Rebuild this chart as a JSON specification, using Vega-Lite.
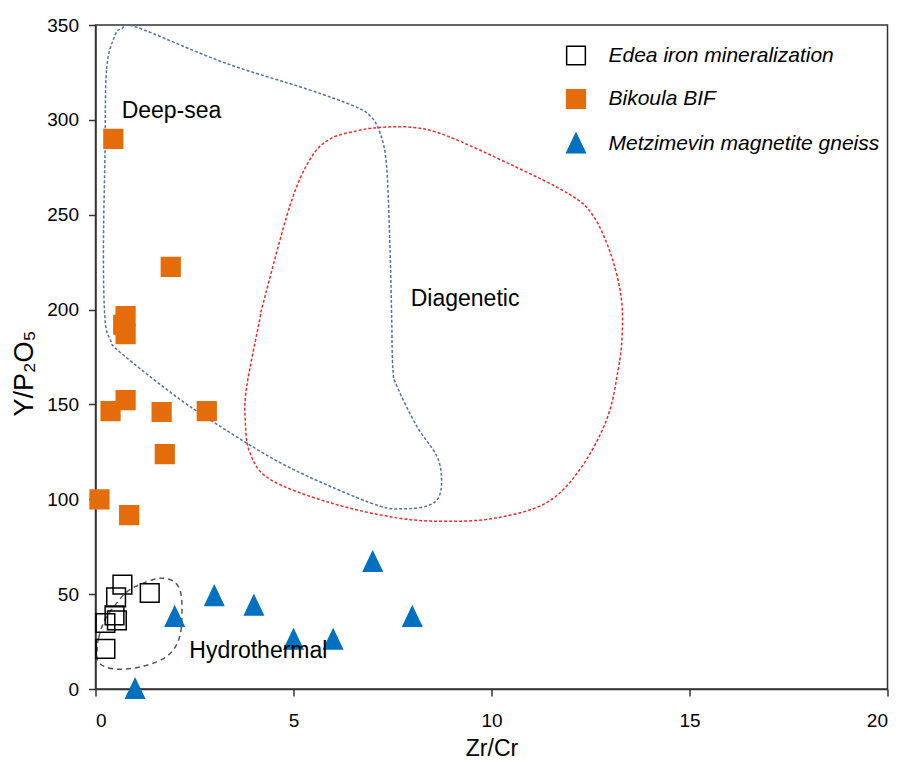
{
  "$schema": "https://vega.github.io/schema/vega-lite/v6.json",
  "autosize": {"type": "none"},
  "width": 792,
  "height": 664,
  "padding": {"left": 95.5, "top": 25, "right": 13.5, "bottom": 73},
  "background": "white",
  "config": {
    "view": {"stroke": "#333", "strokeWidth": 1.5},
    "font": "Liberation Sans",
    "axis": {
      "labelFont": "Liberation Sans", "labelFontSize": 19, "labelColor": "#000",
      "titleFont": "Liberation Sans", "titleFontSize": 23, "titleFontWeight": "normal", "titleColor": "#000",
      "domainColor": "#333", "domainWidth": 1.5, "tickColor": "#333", "tickWidth": 1.5, "tickSize": 7, "grid": false
    },
    "legend": {
      "labelFont": "Liberation Sans", "labelFontSize": 21, "labelFontStyle": "italic", "labelColor": "#000",
      "labelOffset": 22, "rowPadding": 18.5, "symbolSize": 350, "symbolStrokeWidth": 1.5, "labelLimit": 400, "padding": 0
    }
  },
  "datasets": {
    "points": [
      {"series": "Edea iron mineralization", "x": 0.68, "y": 55.0},
      {"series": "Edea iron mineralization", "x": 0.52, "y": 48.3},
      {"series": "Edea iron mineralization", "x": 1.37, "y": 50.6},
      {"series": "Edea iron mineralization", "x": 0.48, "y": 38.8},
      {"series": "Edea iron mineralization", "x": 0.54, "y": 36.2},
      {"series": "Edea iron mineralization", "x": 0.25, "y": 34.8},
      {"series": "Edea iron mineralization", "x": 0.25, "y": 21.1},
      {"series": "Bikoula BIF", "x": 0.45, "y": 290},
      {"series": "Bikoula BIF", "x": 1.9, "y": 222.5},
      {"series": "Bikoula BIF", "x": 0.76, "y": 196.6},
      {"series": "Bikoula BIF", "x": 0.7, "y": 192},
      {"series": "Bikoula BIF", "x": 0.76, "y": 187},
      {"series": "Bikoula BIF", "x": 0.76, "y": 152.3},
      {"series": "Bikoula BIF", "x": 0.38, "y": 146.5},
      {"series": "Bikoula BIF", "x": 1.67, "y": 146},
      {"series": "Bikoula BIF", "x": 2.81, "y": 146.5},
      {"series": "Bikoula BIF", "x": 1.75, "y": 123.8},
      {"series": "Bikoula BIF", "x": 0.1, "y": 99.9},
      {"series": "Bikoula BIF", "x": 0.85, "y": 91.6},
      {"series": "Metzimevin magnetite gneiss", "x": 1, "y": 0},
      {"series": "Metzimevin magnetite gneiss", "x": 2, "y": 38},
      {"series": "Metzimevin magnetite gneiss", "x": 3, "y": 49},
      {"series": "Metzimevin magnetite gneiss", "x": 4, "y": 44},
      {"series": "Metzimevin magnetite gneiss", "x": 5, "y": 26},
      {"series": "Metzimevin magnetite gneiss", "x": 6, "y": 26},
      {"series": "Metzimevin magnetite gneiss", "x": 7, "y": 67},
      {"series": "Metzimevin magnetite gneiss", "x": 8, "y": 38}
    ],
    "deepsea": [
      {"i": 1, "x": 0.24, "y": 282.8}, {"i": 2, "x": 0.28, "y": 326.8}, {"i": 3, "x": 0.49, "y": 344.4},
      {"i": 4, "x": 0.66, "y": 348.0}, {"i": 5, "x": 1.04, "y": 348.8}, {"i": 6, "x": 3.23, "y": 330.3},
      {"i": 7, "x": 5.33, "y": 316.3}, {"i": 8, "x": 6.51, "y": 307.4}, {"i": 9, "x": 6.93, "y": 302.2},
      {"i": 10, "x": 7.18, "y": 293.4}, {"i": 11, "x": 7.35, "y": 275.8}, {"i": 12, "x": 7.44, "y": 230.1},
      {"i": 13, "x": 7.48, "y": 194.9}, {"i": 14, "x": 7.51, "y": 168.5}, {"i": 15, "x": 7.61, "y": 159.7},
      {"i": 16, "x": 8.11, "y": 138.6}, {"i": 17, "x": 8.62, "y": 122.7}, {"i": 18, "x": 8.74, "y": 110.4},
      {"i": 19, "x": 8.66, "y": 100.8}, {"i": 20, "x": 8.36, "y": 96.4}, {"i": 21, "x": 7.77, "y": 95.0},
      {"i": 22, "x": 7.18, "y": 96.4}, {"i": 23, "x": 5.92, "y": 106.9}, {"i": 24, "x": 4.66, "y": 119.3},
      {"i": 25, "x": 3.40, "y": 135.1}, {"i": 26, "x": 2.13, "y": 152.7}, {"i": 27, "x": 0.62, "y": 177.5},
      {"i": 28, "x": 0.37, "y": 184.3}, {"i": 29, "x": 0.24, "y": 194.9}, {"i": 30, "x": 0.20, "y": 230.1}
    ],
    "diagenetic": [
      {"i": 1, "x": 3.78, "y": 142.1}, {"i": 2, "x": 3.82, "y": 159.7}, {"i": 3, "x": 4.15, "y": 194.9},
      {"i": 4, "x": 4.24, "y": 203.7}, {"i": 5, "x": 4.91, "y": 254.7}, {"i": 6, "x": 5.42, "y": 279.3},
      {"i": 7, "x": 5.92, "y": 289.9}, {"i": 8, "x": 6.60, "y": 294.2}, {"i": 9, "x": 7.18, "y": 296.0},
      {"i": 10, "x": 8.03, "y": 296.0}, {"i": 11, "x": 8.87, "y": 291.6}, {"i": 12, "x": 10.55, "y": 275.8},
      {"i": 13, "x": 11.95, "y": 261.0}, {"i": 14, "x": 12.55, "y": 250.0}, {"i": 15, "x": 13.0, "y": 230.0},
      {"i": 16, "x": 13.27, "y": 207.2}, {"i": 17, "x": 13.30, "y": 187.0}, {"i": 18, "x": 13.20, "y": 168.5},
      {"i": 19, "x": 12.91, "y": 142.1}, {"i": 20, "x": 12.23, "y": 115.7}, {"i": 21, "x": 11.39, "y": 98.2},
      {"i": 22, "x": 10.13, "y": 90.2}, {"i": 23, "x": 8.87, "y": 88.4}, {"i": 24, "x": 7.61, "y": 90.2},
      {"i": 25, "x": 5.92, "y": 98.2}, {"i": 26, "x": 4.41, "y": 110.5}, {"i": 27, "x": 3.90, "y": 124.5}
    ],
    "hydrothermal": [
      {"i": 1, "x": 0.04, "y": 20}, {"i": 2, "x": 0.08, "y": 27}, {"i": 3, "x": 0.24, "y": 36.6},
      {"i": 4, "x": 0.54, "y": 45.4}, {"i": 5, "x": 0.87, "y": 52.4}, {"i": 6, "x": 1.46, "y": 57.7},
      {"i": 7, "x": 1.84, "y": 58.0}, {"i": 8, "x": 2.09, "y": 54.1}, {"i": 9, "x": 2.18, "y": 45.4},
      {"i": 10, "x": 2.13, "y": 27.8}, {"i": 11, "x": 1.80, "y": 17.2}, {"i": 12, "x": 1.12, "y": 11.6},
      {"i": 13, "x": 0.45, "y": 10.6}, {"i": 14, "x": 0.08, "y": 14}
    ],
    "labels": [
      {"label": "Deep-sea", "x": 0.66, "y": 301},
      {"label": "Diagenetic", "x": 7.96, "y": 201.9},
      {"label": "Hydrothermal", "x": 2.37, "y": 16.4}
    ]
  },
  "encoding": {
    "x": {
      "field": "x", "type": "quantitative",
      "scale": {"domain": [0, 20], "nice": false, "zero": false},
      "axis": {"title": "Zr/Cr", "values": [0, 5, 10, 15, 20], "labelPadding": 15, "titlePadding": 7}
    },
    "y": {
      "field": "y", "type": "quantitative",
      "scale": {"domain": [0, 350], "nice": false, "zero": false},
      "axis": {"title": "Y/P₂O₅", "values": [0, 50, 100, 150, 200, 250, 300, 350], "labelPadding": 10, "titleFontSize": 27, "titleX": -57, "titleY": 348}
    }
  },
  "layer": [
    {
      "data": {"name": "deepsea"},
      "mark": {"type": "line", "interpolate": "cardinal-closed", "stroke": "#4F72A6", "strokeWidth": 1.5, "strokeDash": [3, 2]},
      "encoding": {"order": {"field": "i", "type": "quantitative"}}
    },
    {
      "data": {"name": "diagenetic"},
      "mark": {"type": "line", "interpolate": "cardinal-closed", "stroke": "#EE2A2A", "strokeWidth": 1.5, "strokeDash": [3, 2]},
      "encoding": {"order": {"field": "i", "type": "quantitative"}}
    },
    {
      "data": {"name": "hydrothermal"},
      "mark": {"type": "line", "interpolate": "cardinal-closed", "stroke": "#555555", "strokeWidth": 1.5, "strokeDash": [5, 4]},
      "encoding": {"order": {"field": "i", "type": "quantitative"}}
    },
    {
      "data": {"name": "points"},
      "mark": {"type": "point", "strokeWidth": 1.5, "opacity": 1, "size": 350},
      "encoding": {
        "fill": {
          "field": "series", "type": "nominal",
          "scale": {"domain": ["Edea iron mineralization", "Bikoula BIF", "Metzimevin magnetite gneiss"], "range": ["transparent", "#E46C0A", "#0070C0"]},
          "legend": {"title": null, "orient": "none", "legendX": 470, "legendY": 20}
        },
        "stroke": {
          "field": "series", "type": "nominal",
          "scale": {"domain": ["Edea iron mineralization", "Bikoula BIF", "Metzimevin magnetite gneiss"], "range": ["#000000", "#E46C0A", "#0070C0"]},
          "legend": {"title": null, "orient": "none", "legendX": 470, "legendY": 20}
        },
        "shape": {
          "field": "series", "type": "nominal",
          "scale": {"domain": ["Edea iron mineralization", "Bikoula BIF", "Metzimevin magnetite gneiss"], "range": ["square", "square", "M0,-1.1L1,1L-1,1Z"]},
          "legend": {"title": null, "orient": "none", "legendX": 470, "legendY": 20}
        }
      }
    },
    {
      "data": {"name": "labels"},
      "mark": {"type": "text", "align": "left", "baseline": "alphabetic", "fontSize": 23, "font": "Liberation Sans", "color": "#000"},
      "encoding": {"text": {"field": "label", "type": "nominal"}}
    }
  ]
}
